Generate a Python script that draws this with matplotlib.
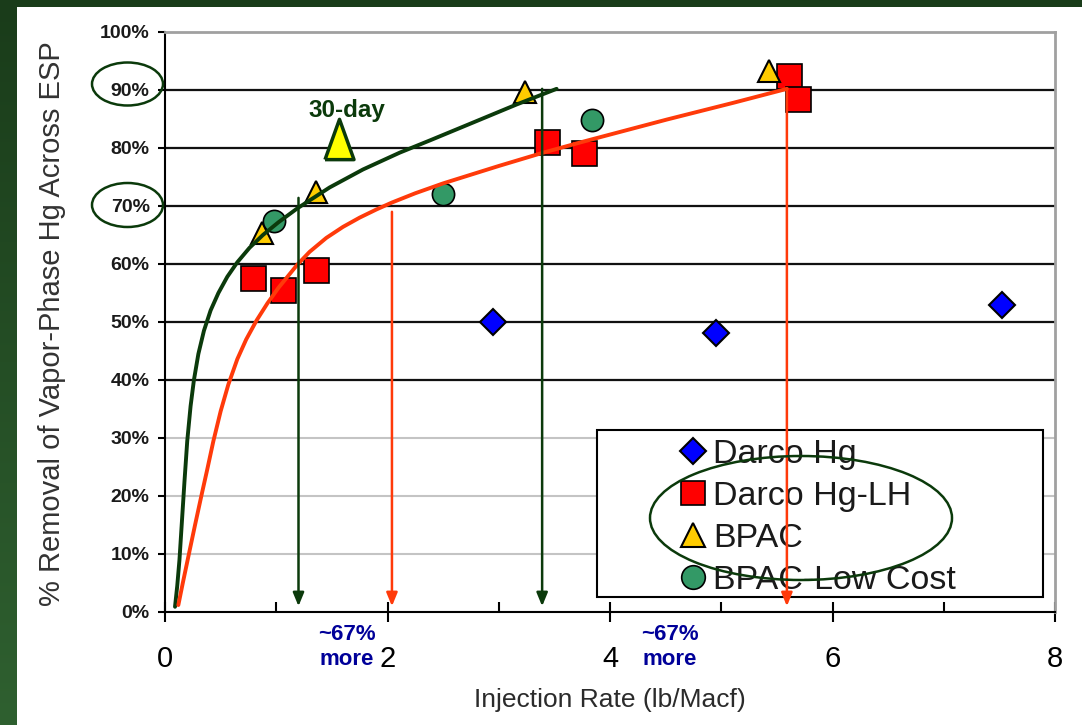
import numpy as np
import matplotlib
matplotlib.use('Agg')
from matplotlib import pyplot as plt
from matplotlib.patches import Ellipse, Rectangle
from matplotlib.colors import LinearSegmentedColormap
from matplotlib.lines import Line2D

plt.rcParams['font.family'] = ['Liberation Sans', 'DejaVu Sans']

### values (x: lb/Macf, y: % removal)
darco_x = [2.95, 4.95, 7.52]
darco_y = [50.0, 48.1, 53.0]
darco_lh_x = [0.79, 1.06, 1.36, 3.43, 3.77, 5.61, 5.69]
darco_lh_y = [57.6, 55.6, 59.0, 81.0, 79.1, 92.5, 88.4]
bpac_x = [0.87, 1.36, 3.24, 5.43]
bpac_y = [65.3, 72.4, 89.6, 93.2]
bpac_lc_x = [0.98, 2.50, 3.84]
bpac_lc_y = [67.5, 72.1, 84.8]
day30_x = [1.56]
day30_y = [81.6]

# trend curves, traced point by point
fit_bpac_x = [0.09, 0.11, 0.13, 0.15, 0.175, 0.20, 0.23, 0.26, 0.30, 0.35, 0.41,
              0.48, 0.56, 0.65, 0.76, 0.88, 1.02, 1.19, 1.48, 1.78, 2.11, 2.38,
              2.72, 3.16, 3.52]
fit_bpac_y = [0.9, 4.5, 9.0, 15.0, 22.5, 29.5, 35.5, 40.0, 44.5, 48.5, 52.0,
              55.0, 57.8, 60.3, 62.8, 65.0, 67.2, 69.6, 73.2, 76.3, 79.2, 81.3,
              84.0, 87.5, 90.2]
fit_darco_x = [0.12, 0.16, 0.217, 0.27, 0.33, 0.38, 0.434, 0.50, 0.569, 0.65,
               0.73, 0.824, 0.92, 1.02, 1.19, 1.30, 1.45, 1.60, 1.75, 1.90, 2.04,
               2.25, 2.5, 3.0, 3.4, 3.76, 4.51, 5.11, 5.59]
fit_darco_y = [1.2, 5.0, 10.2, 15.0, 20.3, 24.6, 29.4, 34.6, 39.2, 43.6,
               47.0, 50.3, 53.2, 55.9, 59.9, 62.1, 64.5, 66.4, 68.0, 69.4, 70.6,
               72.2, 73.9, 76.9, 79.2, 81.1, 84.9, 87.8, 90.2]

# drop arrows (x, start %)
arrows_bpac = [(1.20, 71.4), (3.39, 90.2)]
arrows_darco = [(2.04, 69.0), (5.59, 90.2)]
arrow_end = 1.0

xticks = [0, 2, 4, 6, 8]
xminor = [1, 3, 5, 7]
yticks = list(range(0, 101, 10))
dark_grid = [40, 50, 60, 70, 80, 90]

green = '#0b3a0b'
orange = '#ff3a0a'
W, H = 1082, 725

fig = plt.figure(figsize=(10.82, 7.25), dpi=100)

## slide background
bg = fig.add_axes([0, 0, 1, 1], zorder=-1)
grad = np.linspace(0, 1, 256).reshape(-1, 1)
cmap = LinearSegmentedColormap.from_list('bg', ['#1a3c1a', '#2f6030'])
bg.imshow(grad, aspect='auto', cmap=cmap, extent=[0, 1, 0, 1], origin='upper')
bg.add_patch(Rectangle((17 / W, 0), 1, 1 - 7 / H, transform=bg.transAxes,
                       fc='white', ec='none'))
bg.set_xlim(0, 1)
bg.set_ylim(0, 1)
bg.axis('off')

## chart
ax = fig.add_axes([165 / W, 1 - 612 / H, 890 / W, 580 / H])
ax.set_xlim(0, 8)
ax.set_ylim(0, 100)

ax.set_yticks(yticks)
ax.set_yticklabels([f'{v}%' for v in yticks])
ax.set_xticks(xticks)
ax.set_xticks(xminor, minor=True)
ax.yaxis.grid(True, color='#c4c4c4', lw=1.5)
ax.set_axisbelow(True)
ax.hlines(dark_grid, 0, 8, colors='#111111', lw=1.6, zorder=1)

for s in ['top', 'right']:
    ax.spines[s].set_color('#a0a0a0')
    ax.spines[s].set_linewidth(2)
for s in ['left', 'bottom']:
    ax.spines[s].set_color('black')
    ax.spines[s].set_linewidth(1.5)

ax.tick_params(axis='x', which='major', direction='inout', length=14, width=1.5,
               labelsize=21, pad=17)
ax.tick_params(axis='x', which='minor', direction='in', length=7, width=1.5)
ax.tick_params(axis='y', direction='out', length=5, width=1.5, labelsize=14,
               pad=6, labelcolor='#1a1a1a')
for lbl in ax.get_yticklabels():
    lbl.set_fontweight('bold')

# markers
ax.plot(darco_x, darco_y, ls='none', marker='D', ms=13, mfc='#0000ff',
        mec='black', mew=1.5, zorder=3)
ax.plot(darco_lh_x, darco_lh_y, ls='none', marker='s', ms=18, mfc='#ff0000',
        mec='black', mew=1.2, zorder=3)
ax.plot(bpac_x, bpac_y, ls='none', marker='^', ms=16, mfc='#ffcc00',
        mec='black', mew=1.5, zorder=3)
ax.plot(bpac_lc_x, bpac_lc_y, ls='none', marker='o', ms=16, mfc='#339966',
        mec='black', mew=1.2, zorder=3)
tall_tri = [(-0.36, -0.5), (0.36, -0.5), (0, 0.5), (-0.36, -0.5)]
ax.plot(day30_x, day30_y, ls='none', marker=tall_tri, ms=29, mfc='#ffff00',
        mec=green, mew=2.5, zorder=3)

# trend curves
ax.plot(fit_bpac_x, fit_bpac_y, color=green, lw=2.8, zorder=4,
        solid_joinstyle='round', solid_capstyle='round')
ax.plot(fit_darco_x, fit_darco_y, color=orange, lw=2.8, zorder=4,
        solid_joinstyle='round', solid_capstyle='round')

# drop arrows
for arrows, c in [(arrows_bpac, green), (arrows_darco, orange)]:
    for x, top in arrows:
        ax.annotate('', xy=(x, arrow_end), xytext=(x, top), zorder=6,
                    arrowprops=dict(arrowstyle='-|>,head_length=0.8,head_width=0.33',
                                    color=c, lw=1.8, shrinkA=0, shrinkB=0))

ax.text(1.636, 85.3, '30-day', ha='center', va='baseline', fontsize=17.5,
        fontweight='bold', color=green)
for x in [1.636, 4.539]:
    ax.text(x, -2.0, '~67%\nmore', ha='center', va='top', fontsize=16,
            fontweight='bold', color='#000099', linespacing=1.3)

ax.set_xlabel('Injection Rate (lb/Macf)', fontsize=19, color='#2b2b2b')
ax.xaxis.set_label_coords(0.5, -0.131)
ax.set_ylabel('% Removal of Vapor-Phase Hg Across ESP', fontsize=21, color='#333333')
ax.yaxis.set_label_coords(-0.111, 0.497)

# legend
ax.add_patch(Rectangle((0.4854, 0.0259), 0.5011, 0.2879, transform=ax.transAxes,
                       fc='white', ec='black', lw=1.5, zorder=4))
handles = [
    Line2D([], [], ls='none', marker='D', ms=13, mfc='#0000ff', mec='black', mew=1.5, label='Darco Hg'),
    Line2D([], [], ls='none', marker='s', ms=17, mfc='#ff0000', mec='black', mew=1.2, label='Darco Hg-LH'),
    Line2D([], [], ls='none', marker='^', ms=17, mfc='#ffcc00', mec='black', mew=1.5, label='BPAC'),
    Line2D([], [], ls='none', marker='o', ms=17, mfc='#339966', mec='black', mew=1.2, label='BPAC-Low Cost'),
]
leg = ax.legend(handles=handles, loc='center left', bbox_to_anchor=(0.5742, 0.1630),
                frameon=False, fontsize=24.5, handlelength=1.0, handletextpad=0.09,
                labelspacing=0.32, borderpad=0, borderaxespad=0)
leg.set_zorder(5)
for t in leg.get_texts():
    t.set_color('#1a1a1a')

# hand-drawn ellipses
for cx, cy, w, h in [(127.5, 84, 71, 43), (127.5, 205, 71, 44), (801, 518, 302, 124)]:
    fig.add_artist(Ellipse((cx / W, 1 - cy / H), w / W, h / H, transform=fig.transFigure,
                           fill=False, ec=green, lw=1.8, zorder=10))

fig.savefig('out.png', dpi=100)
